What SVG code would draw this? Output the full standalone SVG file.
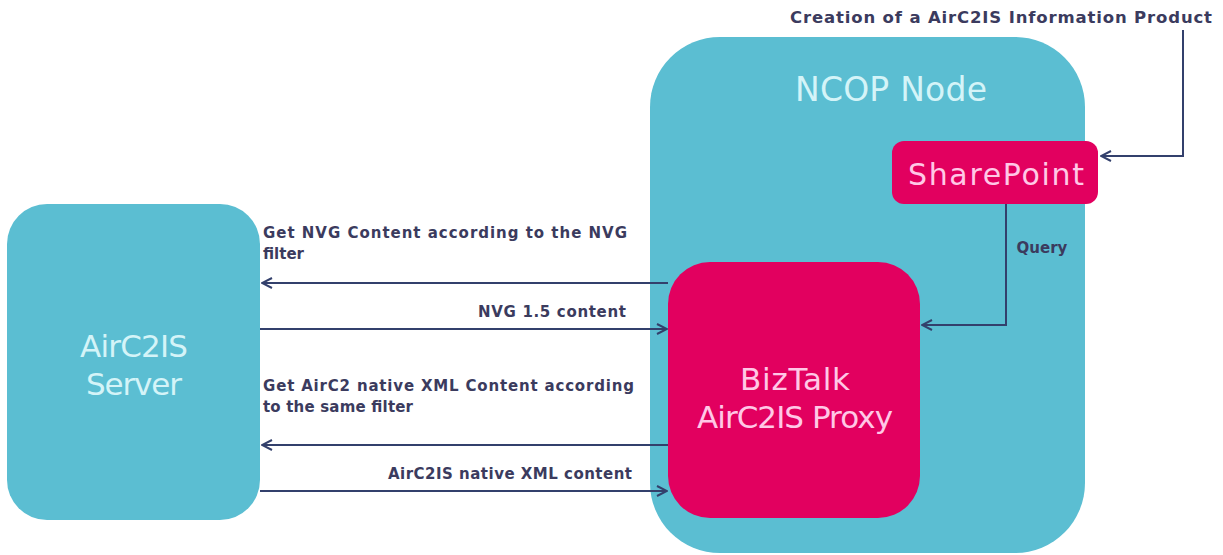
<svg xmlns="http://www.w3.org/2000/svg" width="1223" height="555" viewBox="0 0 1223 555">
<defs>
<style>
.teal{fill:#5bbed2}
.mag{fill:#e2005f}
.big{font-family:"DejaVu Sans","Liberation Sans",sans-serif;font-size:31px;fill:#d4f4f8;text-anchor:middle}
.bigm{font-family:"DejaVu Sans","Liberation Sans",sans-serif;font-size:31px;fill:#ffc8e6;text-anchor:middle}
.lbl{font-family:"DejaVu Sans","Liberation Sans",sans-serif;font-size:15px;font-weight:bold;fill:#3b3b5e}
.ln{fill:none;stroke:#33406c;stroke-width:2}
</style>
<marker id="ah" viewBox="0 0 12 12" refX="11" refY="6" markerWidth="12" markerHeight="12" markerUnits="userSpaceOnUse" orient="auto">
<path d="M1,1 L11,6 L1,11" fill="none" stroke="#33406c" stroke-width="2"/>
</marker>
</defs>
<rect width="1223" height="555" fill="#ffffff"/>
<g id="server">
<rect class="teal" x="7" y="204" width="253" height="316" rx="40"/>
<text class="big" x="134" y="357" textLength="108">AirC2IS</text>
<text class="big" x="134" y="395" textLength="96">Server</text>
</g>
<g id="ncop">
<rect class="teal" x="650" y="37" width="435" height="516" rx="70"/>
<text class="big" x="891" y="101" style="font-size:33px" textLength="192">NCOP Node</text>
</g>
<g id="sharepoint">
<rect class="mag" x="892" y="141" width="206" height="63" rx="12"/>
<text class="bigm" x="996" y="185" style="font-size:30px" textLength="176">SharePoint</text>
</g>
<g id="biztalk">
<rect class="mag" x="668" y="262" width="252" height="256" rx="42"/>
<text class="bigm" x="795" y="390" textLength="110">BizTalk</text>
<text class="bigm" x="795" y="428" textLength="196">AirC2IS Proxy</text>
</g>
<g id="connectors">
<polyline class="ln" points="1183,30 1183,156 1101,156" marker-end="url(#ah)"/>
<polyline class="ln" points="1006,204 1006,325 922,325" marker-end="url(#ah)"/>
<line class="ln" x1="668" y1="283" x2="262" y2="283" marker-end="url(#ah)"/>
<line class="ln" x1="260" y1="329" x2="667" y2="329" marker-end="url(#ah)"/>
<line class="ln" x1="668" y1="445" x2="262" y2="445" marker-end="url(#ah)"/>
<line class="ln" x1="260" y1="491" x2="667" y2="491" marker-end="url(#ah)"/>
</g>
<g id="labels">
<text class="lbl" x="1212" y="23" text-anchor="end" style="font-size:16.5px" textLength="422">Creation of a AirC2IS Information Product</text>
<text class="lbl" x="1042" y="253" text-anchor="middle">Query</text>
<text class="lbl" x="263" y="238" textLength="364">Get NVG Content according to the NVG</text>
<text class="lbl" x="263" y="259">filter</text>
<text class="lbl" x="626" y="317" text-anchor="end" textLength="148">NVG 1.5 content</text>
<text class="lbl" x="263" y="391" textLength="371">Get AirC2 native XML Content according</text>
<text class="lbl" x="263" y="412" textLength="150">to the same filter</text>
<text class="lbl" x="632" y="479" text-anchor="end" textLength="244">AirC2IS native XML content</text>
</g>
</svg>
